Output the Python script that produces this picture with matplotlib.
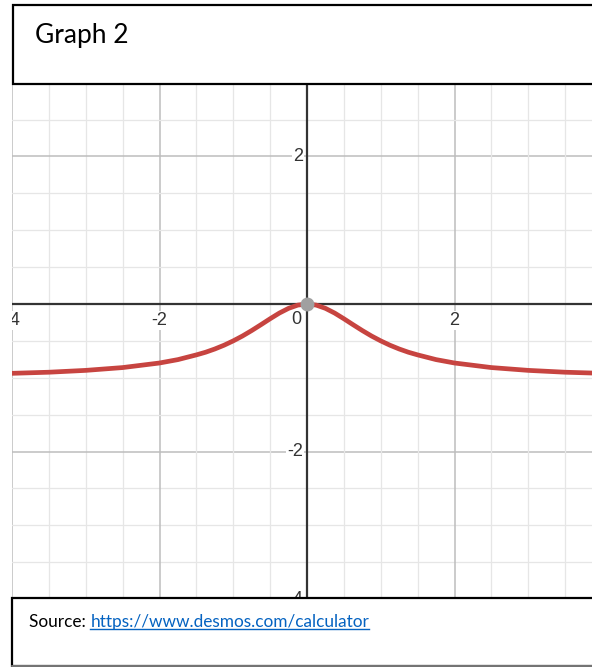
import matplotlib
matplotlib.use("Agg")
import matplotlib.pyplot as plt
import numpy as np
from matplotlib.patches import Rectangle

# curve values
curve_x = [-4.0, -3.5, -3.0, -2.5, -2.0, -1.75, -1.5, -1.375, -1.25, -1.125, -1.0,
           -0.875, -0.75, -0.625, -0.5, -0.375, -0.25, -0.125,
           0.0, 0.125, 0.25, 0.375, 0.5, 0.625, 0.75, 0.875,
           1.0, 1.125, 1.25, 1.375, 1.5, 1.75, 2.0, 2.5, 3.0, 3.5, 4.0]
curve_y = [-0.94, -0.925, -0.90, -0.862, -0.80, -0.754, -0.69, -0.654, -0.61, -0.559, -0.50,
           -0.434, -0.36, -0.281, -0.20, -0.123, -0.059, -0.015,
           0.0, -0.015, -0.059, -0.123, -0.20, -0.281, -0.36, -0.434,
           -0.50, -0.559, -0.61, -0.654, -0.69, -0.754, -0.80, -0.862, -0.90, -0.925, -0.94]

x_labels = [-4, -2, 2]
y_labels = [2, -2, -4]

W, H = 592, 667
fig = plt.figure(figsize=(W / 100, H / 100), dpi=100)

# graph area in pixel coords
gx0, gx1, gy0, gy1 = 12, 592, 85, 600
ax = fig.add_axes([gx0 / W, 1 - gy1 / H, (gx1 - gx0) / W, (gy1 - gy0) / H])
ppu = 73.75
ox, oy = 307, 304
ax.set_xlim((gx0 - ox) / ppu, (gx1 - ox) / ppu)
ax.set_ylim(-(gy1 - oy) / ppu, (oy - gy0) / ppu)
for s in ax.spines.values():
    s.set_visible(False)
ax.set_xticks([])
ax.set_yticks([])

# grid: minor every 0.5, major every 2
for v in np.arange(-8, 8.01, 0.5):
    major = abs(v % 2) < 1e-9
    c = "#bdbdbd" if major else "#e6e6e6"
    lw = 1.1 if major else 0.9
    ax.axvline(v, color=c, lw=lw, zorder=1)
    ax.axhline(v, color=c, lw=lw, zorder=1)

ax.axhline(0, color="#333333", lw=1.6, zorder=2)
ax.axvline(0, color="#333333", lw=1.6, zorder=2)

ax.plot(curve_x, curve_y, color="#c74440", lw=3.4, solid_capstyle="round",
        solid_joinstyle="round", zorder=4)
ax.plot([0], [0], "o", ms=9, color="#a0a0a0", zorder=5)

lab_font = dict(family="Liberation Sans", size=13, color="#333333")
halo = dict(facecolor="white", edgecolor="none", pad=0.5)
for v in x_labels:
    ax.annotate(f"{v}", (v, 0), xytext=(0, -12), textcoords="offset points",
                ha="center", va="center", bbox=halo, annotation_clip=False,
                clip_on=True, zorder=3, **lab_font)
ax.annotate("0", (0, 0), xytext=(-8, -11), textcoords="offset points",
            ha="center", va="center", zorder=3, **lab_font)
for v in y_labels:
    ax.annotate(f"{v}", (0, v), xytext=(-3, 0), textcoords="offset points",
                ha="right", va="center", bbox=halo, clip_on=True, zorder=3, **lab_font)

# header box
fig.add_artist(Rectangle((13 / W, 1 - 84 / H), (W + 10 - 13) / W, (84 - 5) / H,
                         transform=fig.transFigure, facecolor="white",
                         edgecolor="black", lw=1.6, zorder=10))
fig.text(35 / W, 1 - 35 / H, "Graph 2", family="Lato", fontsize=19,
         ha="left", va="center", zorder=11)

# source box
fig.add_artist(Rectangle((12 / W, 1 - 666 / H), (W + 10 - 12) / W, (666 - 598) / H,
                         transform=fig.transFigure, facecolor="white",
                         edgecolor="black", lw=1.6, zorder=10))
fig.add_artist(plt.Line2D([12 / W, 1], [1 - 666 / H, 1 - 666 / H],
                          transform=fig.transFigure, color="#8c8c8c", lw=1.2, zorder=11))
t1 = fig.text(29 / W, 1 - 622 / H, "Source: ", family="Lato", fontsize=12.4,
              ha="left", va="center", zorder=11)
fig.canvas.draw()
bb = t1.get_window_extent()
t2 = fig.text(bb.x1 / W, 1 - 622 / H, "https://www.desmos.com/calculator",
              family="Lato", fontsize=12.4, color="#0563c1",
              ha="left", va="center", zorder=11)
fig.canvas.draw()
bb2 = t2.get_window_extent()
uy = (bb2.y0 + 1) / H
fig.add_artist(plt.Line2D([bb2.x0 / W, bb2.x1 / W], [uy, uy], transform=fig.transFigure,
                          color="#0563c1", lw=1.0, zorder=11))

fig.savefig("out.png", dpi=100)
